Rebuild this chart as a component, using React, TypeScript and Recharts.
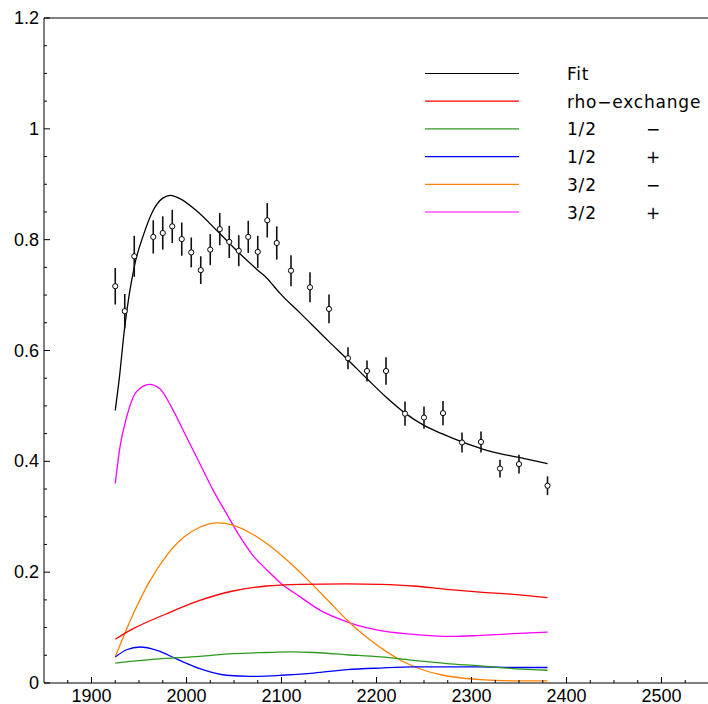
import React from 'react';
import {
  ComposedChart,
  Line,
  Scatter,
  ErrorBar,
  XAxis,
  YAxis,
  ReferenceLine,
  Legend,
} from 'recharts';

// Measured cross section: invariant mass (MeV), value and symmetric error
const massPoints = [
  1925, 1935, 1945, 1965, 1975, 1985, 1995, 2005, 2015, 2025, 2035, 2045, 2055, 2065, 2075, 2085,
  2095, 2110, 2130, 2150, 2170, 2190, 2210, 2230, 2250, 2270, 2290, 2310, 2330, 2350, 2380,
];
const measured = [
  0.716, 0.671, 0.77, 0.805, 0.812, 0.824, 0.801, 0.777, 0.745, 0.782, 0.819, 0.796, 0.78, 0.805,
  0.778, 0.835, 0.794, 0.744, 0.714, 0.675, 0.586, 0.563, 0.563, 0.486, 0.479, 0.487, 0.434, 0.435,
  0.387, 0.395, 0.356,
];
const measuredErr = [
  0.033, 0.031, 0.037, 0.03, 0.03, 0.03, 0.03, 0.027, 0.025, 0.028, 0.029, 0.029, 0.028, 0.029,
  0.029, 0.031, 0.03, 0.028, 0.027, 0.026, 0.02, 0.019, 0.025, 0.022, 0.02, 0.022, 0.018, 0.019,
  0.016, 0.017, 0.017,
];

// Total fit
const fitMass = [
  1925, 1929, 1935, 1945, 1955, 1965, 1975, 1983, 1993, 2010, 2035, 2056, 2075, 2085, 2092, 2098,
  2120, 2150, 2170, 2190, 2210, 2230, 2250, 2270, 2290, 2310, 2330, 2350, 2380,
];
const fitValue = [
  0.492, 0.546, 0.643, 0.751, 0.81, 0.853, 0.875, 0.88, 0.874, 0.853, 0.811, 0.775, 0.745, 0.73,
  0.716, 0.704, 0.667, 0.616, 0.583, 0.549, 0.516, 0.487, 0.465, 0.449, 0.435, 0.423, 0.414,
  0.407, 0.396,
];

// rho-exchange contribution
const rhoMass = [1925, 1944, 1979, 2014, 2049, 2084, 2120, 2169, 2204, 2239, 2274, 2309, 2344, 2380];
const rhoValue = [0.079, 0.098, 0.125, 0.149, 0.166, 0.175, 0.178, 0.179, 0.178, 0.175, 0.169, 0.164, 0.16, 0.154];

// J^P = 1/2-
const halfMinusMass = [1925, 1967, 2014, 2049, 2084, 2110, 2134, 2169, 2204, 2239, 2274, 2309, 2344, 2380];
const halfMinusValue = [0.036, 0.043, 0.048, 0.053, 0.055, 0.056, 0.055, 0.051, 0.047, 0.041, 0.035, 0.031, 0.026, 0.023];

// J^P = 1/2+
const halfPlusMass = [
  1925, 1937, 1951, 1969, 1990, 2014, 2042, 2067, 2100, 2134, 2169, 2204, 2239, 2274, 2309, 2344, 2380,
];
const halfPlusValue = [
  0.047, 0.06, 0.065, 0.059, 0.043, 0.026, 0.014, 0.012, 0.014, 0.018, 0.024, 0.027, 0.029, 0.029,
  0.029, 0.028, 0.028,
];

// J^P = 3/2-
const threeHalfMinusMass = [
  1925, 1944, 1961, 1979, 1997, 2014, 2033, 2049, 2070, 2091, 2110, 2130, 2150, 2170, 2190, 2210,
  2230, 2250, 2270, 2290, 2310, 2340, 2380,
];
const threeHalfMinusValue = [
  0.047, 0.125, 0.183, 0.23, 0.263, 0.281, 0.289, 0.285, 0.268, 0.243, 0.215, 0.182, 0.147, 0.112,
  0.082, 0.057, 0.037, 0.023, 0.014, 0.009, 0.006, 0.004, 0.004,
];

// J^P = 3/2+
const threeHalfPlusMass = [
  1925, 1930, 1937, 1947, 1961, 1972, 1986, 2000, 2014, 2028, 2042, 2056, 2070, 2084, 2098, 2120,
  2140, 2160, 2180, 2200, 2230, 2260, 2280, 2310, 2344, 2380,
];
const threeHalfPlusValue = [
  0.36, 0.426, 0.48, 0.525, 0.539, 0.531, 0.492, 0.444, 0.396, 0.348, 0.306, 0.265, 0.23, 0.205,
  0.182, 0.155, 0.132, 0.116, 0.104, 0.096, 0.089, 0.085, 0.084, 0.086, 0.089, 0.092,
];

// Axis ticks
const xMajorTicks = [1900, 2000, 2100, 2200, 2300, 2400, 2500];
const xMinorTicks = [
  1875, 1925, 1950, 1975, 2025, 2050, 2075, 2125, 2150, 2175, 2225, 2250, 2275, 2325, 2350, 2375,
  2425, 2450, 2475, 2525,
];
const yMajorTicks = [0, 0.2, 0.4, 0.6, 0.8, 1, 1.2];
const yMajorLabels = ['0', '0.2', '0.4', '0.6', '0.8', '1', '1.2'];
const yMinorTicks = [0.05, 0.1, 0.15, 0.25, 0.3, 0.35, 0.45, 0.5, 0.55, 0.65, 0.7, 0.75, 0.85, 0.9, 0.95, 1.05, 1.1, 1.15];

const zip = (xs: number[], ys: number[]) => xs.map((x, i) => ({ x, y: ys[i] }));

const points = massPoints.map((x, i) => ({ x, y: measured[i], err: measuredErr[i] }));

const series = [
  { name: 'Fit', sign: '', color: '#000000', data: zip(fitMass, fitValue) },
  { name: 'rho\u2212exchange', sign: '', color: '#ff0000', data: zip(rhoMass, rhoValue) },
  { name: '1/2', sign: '\u2212', color: '#2a9a1a', data: zip(halfMinusMass, halfMinusValue) },
  { name: '1/2', sign: '+', color: '#0000ff', data: zip(halfPlusMass, halfPlusValue) },
  { name: '3/2', sign: '\u2212', color: '#ff8000', data: zip(threeHalfMinusMass, threeHalfMinusValue) },
  { name: '3/2', sign: '+', color: '#ff00ff', data: zip(threeHalfPlusMass, threeHalfPlusValue) },
];

const tickFont = '"Liberation Sans", Arial, sans-serif';
const legendFont = '"DejaVu Sans", sans-serif';

const isMajorY = (v: number) => yMajorTicks.some((t) => Math.abs(t - v) < 1e-9);
const isMajorX = (v: number) => xMajorTicks.includes(v);

// Y ticks point into the plot; only major ticks carry a label
const YTick = (props: any) => {
  const { x, y, payload } = props;
  const v = payload.value as number;
  const major = isMajorY(v);
  const idx = yMajorTicks.findIndex((t) => Math.abs(t - v) < 1e-9);
  return (
    <g>
      <line x1={x} x2={x + (major ? 6 : 3)} y1={y} y2={y} stroke="#000" strokeWidth={1} />
      {major && (
        <text x={x - 5} y={y} textAnchor="end" dominantBaseline="central" fontFamily={tickFont} fontSize={18} fill="#000">
          {yMajorLabels[idx]}
        </text>
      )}
    </g>
  );
};

const XTick = (props: any) => {
  const { x, y, payload } = props;
  const v = payload.value as number;
  const major = isMajorX(v);
  return (
    <g>
      <line x1={x} x2={x} y1={y} y2={y - (major ? 6 : 3)} stroke="#000" strokeWidth={1} />
      {major && (
        <text x={x} y={y + 18.5} textAnchor="middle" fontFamily={tickFont} fontSize={18} fill="#000">
          {String(v)}
        </text>
      )}
    </g>
  );
};

const LegendBox = () => (
  <svg width={708} height={240} style={{ display: 'block' }}>
    {series.map((s, i) => {
      const y = 73.5 + i * 27.7;
      return (
        <g key={i}>
          <line x1={425} x2={519} y1={y} y2={y} stroke={s.color} strokeWidth={1.2} />
          <text x={567} y={y + 6.5} fontFamily={legendFont} fontSize={17} letterSpacing={0.8} fill="#000">
            {s.name}
          </text>
          {s.sign && (
            <text x={646} y={y + 6.5} fontFamily={legendFont} fontSize={17} fill="#000">
              {s.sign}
            </text>
          )}
        </g>
      );
    })}
  </svg>
);

const ScatterDot = (p: any) => (
  <circle cx={p.cx} cy={p.cy} r={2.6} fill="#fff" stroke="#000" strokeWidth={1} />
);

export default function App() {
  const xTicks = [...xMajorTicks, ...xMinorTicks].sort((a, b) => a - b);
  const yTicks = [...yMajorTicks, ...yMinorTicks].sort((a, b) => a - b);
  return (
    <div style={{ position: 'absolute', left: 0, top: 0, width: 708, height: 704, overflow: 'hidden', background: '#fff' }}>
      <ComposedChart width={710} height={704} margin={{ top: 18, right: 1, bottom: 0, left: 0 }}>
        <XAxis
          type="number"
          dataKey="x"
          domain={[1850, 2550]}
          ticks={xTicks}
          interval={0}
          height={21}
          tickSize={0}
          tickMargin={0}
          tickLine={false}
          axisLine={{ stroke: '#000', strokeWidth: 1 }}
          tick={<XTick />}
          allowDataOverflow
        />
        <YAxis
          type="number"
          domain={[0, 1.2]}
          ticks={yTicks}
          interval={0}
          width={44}
          tickSize={0}
          tickMargin={0}
          tickLine={false}
          axisLine={{ stroke: '#000', strokeWidth: 1 }}
          tick={<YTick />}
          allowDataOverflow
        />
        <ReferenceLine y={1.2} stroke="#000" strokeWidth={1} />
        {series
          .slice()
          .reverse()
          .map((s, i) => (
            <Line
              key={i}
              data={s.data}
              dataKey="y"
              type="monotone"
              stroke={s.color}
              strokeWidth={1.3}
              dot={false}
              activeDot={false}
              isAnimationActive={false}
            />
          ))}
        <Scatter data={points} dataKey="y" shape={<ScatterDot />} isAnimationActive={false}>
          <ErrorBar dataKey="err" direction="y" width={0} stroke="#111" strokeWidth={1.6} />
        </Scatter>
        <Legend
          layout="vertical"
          align="center"
          verticalAlign="middle"
          wrapperStyle={{ left: 0, top: 0, width: 708, height: 240 }}
          content={<LegendBox />}
        />
      </ComposedChart>
    </div>
  );
}
